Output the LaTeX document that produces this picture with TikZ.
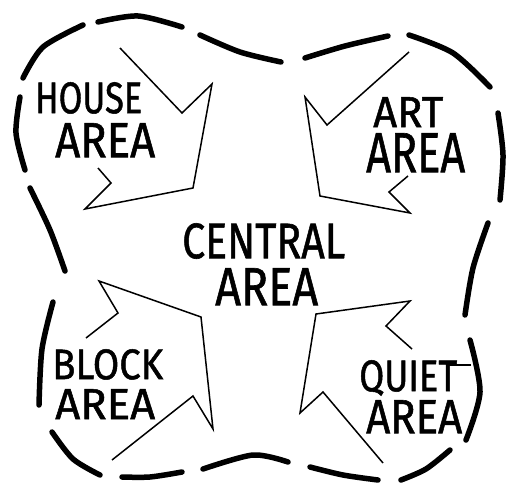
\documentclass[tikz,border=0pt]{standalone}
\usepackage{fontspec}
\setmainfont{Fira Sans}[FakeBold=1.2]
\usepackage{graphicx}
\begin{document}
\begin{tikzpicture}[x=1pt,y=-1pt,
  dashseg/.style={line width=5.5pt,line cap=round,line join=round},
  arrowshape/.style={line width=1.5pt,line join=miter},
  lbl/.style={inner sep=0pt,anchor=north west}]
\useasboundingbox (0,0) rectangle (506,484);
% boundary dashes
\draw[dashseg] plot[smooth] coordinates {(23,78) (43,47) (83,25)};
\draw[dashseg] plot[smooth] coordinates {(98,22) (138,16) (182,27)};
\draw[dashseg] plot[smooth] coordinates {(200,35) (240,52) (281,62)};
\draw[dashseg] plot[smooth] coordinates {(305,58) (345,46) (388,36)};
\draw[dashseg] plot[smooth] coordinates {(409,35) (453,53) (490,87)};
\draw[dashseg] plot[smooth] coordinates {(498,113) (503,155) (500,200)};
\draw[dashseg] plot[smooth] coordinates {(488,223) (473,268) (465,315)};
\draw[dashseg] plot[smooth] coordinates {(470,340) (480,392) (466,440)};
\draw[dashseg] plot[smooth] coordinates {(450,450) (426,469) (401,480)};
\draw[dashseg] plot[smooth] coordinates {(378,480) (343,475) (310,467)};
\draw[dashseg] plot[smooth] coordinates {(288,462) (253,455) (203,469)};
\draw[dashseg] plot[smooth] coordinates {(182,472) (150,477) (122,477)};
\draw[dashseg] plot[smooth] coordinates {(100,475) (73,459) (52,432)};
\draw[dashseg] plot[smooth] coordinates {(39,405) (42,349) (53,302)};
\draw[dashseg] plot[smooth] coordinates {(65,271) (50,230) (30,188)};
\draw[dashseg] plot[smooth] coordinates {(25,170) (16,133) (20,97)};
% arrows
\draw[arrowshape] (98,168) -- (111,183) -- (85,209) -- (193,188) -- (212,84) -- (182,113) -- (120,48);
\draw[arrowshape] (408,176) -- (389,192) -- (410,213) -- (320,196) -- (305,97) -- (327,125) -- (409,52);
\draw[arrowshape] (86,338) -- (118,313) -- (99,281) -- (201,317) -- (213,429) -- (193,396) -- (112,460);
\draw[arrowshape] (412,349) -- (386,326) -- (410,301) -- (316,314) -- (300,413) -- (323,392) -- (383,463);
% labels
\node[lbl] (house1) at (35,82) {\resizebox{107pt}{31pt}{HOUSE}};
\node[lbl] (house2) at (55,123) {\resizebox{100pt}{34pt}{AREA}};
\node[lbl] (art1) at (373,97) {\resizebox{70pt}{30pt}{ART}};
\node[lbl] (art2) at (366,133) {\resizebox{99pt}{39pt}{AREA}};
\node[lbl] (central1) at (182,223) {\resizebox{163pt}{35pt}{CENTRAL}};
\node[lbl] (central2) at (215,268) {\resizebox{103pt}{37pt}{AREA}};
\node[lbl] (block1) at (52,349) {\resizebox{111pt}{30pt}{BLOCK}};
\node[lbl] (block2) at (55,389) {\resizebox{100pt}{30pt}{AREA}};
\node[lbl] (quiet1) at (359,360) {\resizebox{98pt}{31pt}{QUIET}};
\node[lbl] (quiet2) at (366,400) {\resizebox{96pt}{33pt}{AREA}};
\draw[line width=2.8pt] (448,365) -- (471,365);
\end{tikzpicture}
\end{document}
